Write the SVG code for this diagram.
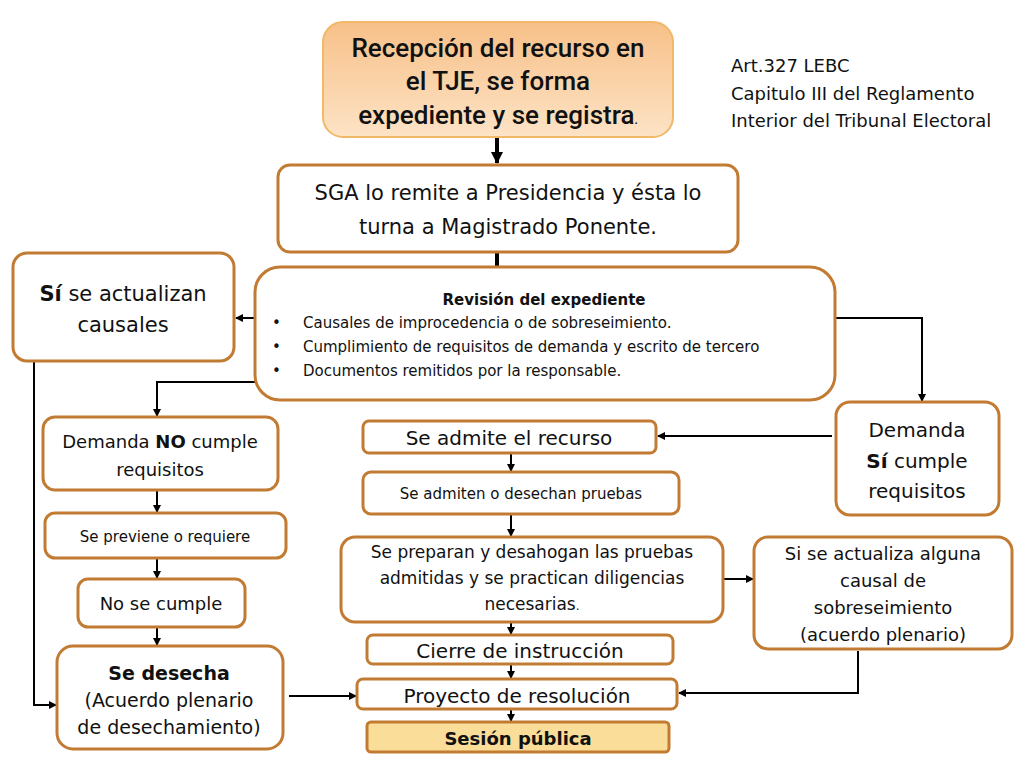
<svg xmlns="http://www.w3.org/2000/svg" width="1024" height="768" viewBox="0 0 1024 768">
<defs>
<linearGradient id="g1" x1="0" y1="0" x2="0" y2="1"><stop offset="0" stop-color="#f7c088"/><stop offset="1" stop-color="#fde3c6"/></linearGradient>
<marker id="ar" markerWidth="8" markerHeight="8" refX="7" refY="4" orient="auto" markerUnits="userSpaceOnUse"><path d="M0,0 L8,4 L0,8 z" fill="#000"/></marker>
<marker id="ar2" markerWidth="12" markerHeight="12" refX="11" refY="6" orient="auto" markerUnits="userSpaceOnUse"><path d="M0,0 L12,6 L0,12 z" fill="#000"/></marker>
</defs>
<style>
.b{fill:#fff;stroke:#c27b33;stroke-width:3}
.t{font-family:"DejaVu Sans",sans-serif;fill:#111;text-anchor:middle}
.h{font-family:Roboto,"Liberation Sans",sans-serif;font-weight:500;fill:#111;text-anchor:middle;font-size:26px}
.c{fill:none;stroke:#000;stroke-width:2;marker-end:url(#ar)}
</style>
<rect width="1024" height="768" fill="#fff"/>
<g id="connectors">
<path d="M497,137 V163" style="fill:none;stroke:#000;stroke-width:4;marker-end:url(#ar2)"/>
<path d="M497,252 V267" style="fill:none;stroke:#000;stroke-width:4"/>
<path class="c" d="M255,318 H236"/>
<path class="c" d="M34,361 V705 H56"/>
<path class="c" d="M255,382 H157 V416"/>
<path class="c" d="M157,490 V512"/>
<path class="c" d="M157,558 V578"/>
<path class="c" d="M157,627 V645"/>
<path class="c" d="M289,696 H356"/>
<path class="c" d="M835,318 H922 V401"/>
<path class="c" d="M832,436 H658"/>
<path class="c" d="M511,453 V471"/>
<path class="c" d="M511,514 V536"/>
<path class="c" d="M511,622 V634"/>
<path class="c" d="M511,664 V678"/>
<path class="c" d="M511,709 V721"/>
<path class="c" d="M723,579 H753"/>
<path class="c" d="M858,651 V693 H679"/>
</g>
<g id="n1"><rect x="323" y="22" width="350" height="115" rx="20" fill="url(#g1)" stroke="#f0b868" stroke-width="2"/>
<text class="h" x="498" y="57">Recepción del recurso en</text>
<text class="h" x="498" y="90">el TJE, se forma</text>
<text class="h" x="498" y="124">expediente y se registra<tspan font-size="12">.</tspan></text></g>
<g id="ref"><text style="font-family:'DejaVu Sans',sans-serif" font-size="18" fill="#111"><tspan x="731" y="72">Art.327 LEBC</tspan><tspan x="731" y="100">Capitulo III del Reglamento</tspan><tspan x="731" y="127">Interior del Tribunal Electoral</tspan></text></g>
<g id="n2"><rect class="b" x="278" y="165" width="460" height="87" rx="12"/>
<text class="t" font-size="21" x="508" y="200">SGA lo remite a Presidencia y ésta lo</text>
<text class="t" font-size="21" x="508" y="234">turna a Magistrado Ponente.</text></g>
<g id="n3"><rect class="b" x="13" y="253" width="221" height="108" rx="14"/>
<text class="t" font-size="21" x="123" y="301"><tspan font-weight="bold">Sí</tspan> se actualizan</text>
<text class="t" font-size="21" x="123" y="332">causales</text></g>
<g id="n4"><rect class="b" x="255" y="267" width="580" height="133" rx="25"/>
<text class="t" font-size="15" font-weight="bold" x="544" y="305">Revisión del expediente</text>
<text style="font-family:'DejaVu Sans',sans-serif" font-size="15" fill="#111">
<tspan x="272" y="328">•</tspan><tspan x="303" y="328">Causales de improcedencia o de sobreseimiento.</tspan>
<tspan x="272" y="352">•</tspan><tspan x="303" y="352">Cumplimiento de requisitos de demanda y escrito de tercero</tspan>
<tspan x="272" y="376">•</tspan><tspan x="303" y="376">Documentos remitidos por la responsable.</tspan></text></g>
<g id="n5"><rect class="b" x="43" y="417" width="235" height="73" rx="12"/>
<text class="t" font-size="18" x="160" y="448">Demanda <tspan font-weight="bold">NO</tspan> cumple</text>
<text class="t" font-size="18" x="160" y="476">requisitos</text></g>
<g id="n6"><rect class="b" x="45" y="513" width="241" height="45" rx="10"/>
<text class="t" font-size="15" x="165" y="542">Se previene o requiere</text></g>
<g id="n7"><rect class="b" x="78" y="579" width="167" height="48" rx="10"/>
<text class="t" font-size="18" x="161" y="610">No se cumple</text></g>
<g id="n8"><rect class="b" x="57" y="646" width="226" height="103" rx="16"/>
<text class="t" font-size="19" font-weight="bold" x="169" y="680">Se desecha</text>
<text class="t" font-size="19" x="169" y="707">(Acuerdo plenario</text>
<text class="t" font-size="19" x="169" y="734">de desechamiento)</text></g>
<g id="n9"><rect class="b" x="363" y="421" width="293" height="32" rx="6"/>
<text class="t" font-size="20" x="509" y="445">Se admite el recurso</text></g>
<g id="n10"><rect class="b" x="363" y="472" width="316" height="42" rx="8"/>
<text class="t" font-size="15" x="521" y="499">Se admiten o desechan pruebas</text></g>
<g id="n11"><rect class="b" x="341" y="537" width="382" height="85" rx="14"/>
<text class="t" font-size="17" x="532" y="558">Se preparan y desahogan las pruebas</text>
<text class="t" font-size="17" x="532" y="584">admitidas y se practican diligencias</text>
<text class="t" font-size="17" x="532" y="610">necesarias<tspan font-size="12">.</tspan></text></g>
<g id="n12"><rect class="b" x="367" y="635" width="306" height="29" rx="6"/>
<text class="t" font-size="20" x="520" y="658">Cierre de instrucción</text></g>
<g id="n13"><rect class="b" x="357" y="679" width="320" height="30" rx="6"/>
<text class="t" font-size="20" x="517" y="703">Proyecto de resolución</text></g>
<g id="n14"><rect x="367" y="722" width="302" height="30" rx="4" fill="#f9dd98" stroke="#c27b33" stroke-width="3"/>
<text class="t" font-size="18" font-weight="bold" x="518" y="745">Sesión pública</text></g>
<g id="n15"><rect class="b" x="836" y="402" width="163" height="113" rx="14"/>
<text class="t" font-size="20" x="917" y="437">Demanda</text>
<text class="t" font-size="20" x="917" y="468"><tspan font-weight="bold">Sí</tspan> cumple</text>
<text class="t" font-size="20" x="917" y="498">requisitos</text></g>
<g id="n16"><rect class="b" x="754" y="537" width="258" height="112" rx="14"/>
<text class="t" font-size="18" x="883" y="560">Si se actualiza alguna</text>
<text class="t" font-size="18" x="883" y="587">causal de</text>
<text class="t" font-size="18" x="883" y="614">sobreseimiento</text>
<text class="t" font-size="18" x="883" y="641">(acuerdo plenario)</text></g>
</svg>
